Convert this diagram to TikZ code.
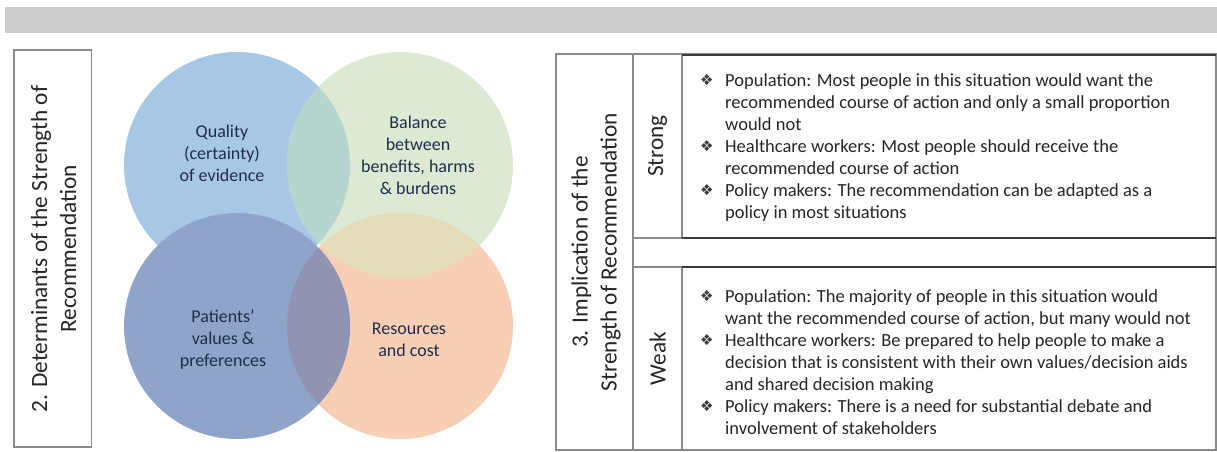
\documentclass[tikz,border=0pt]{standalone}
\usepackage{fontspec}
\setmainfont{Carlito}
\newfontfamily\dejavu{DejaVu Sans}
\definecolor{bandgray}{HTML}{CDCDCD}
\definecolor{boxgray}{HTML}{8A8A8A}
\definecolor{darkline}{HTML}{3A3A3A}
\definecolor{txt}{HTML}{262626}
\definecolor{bultxt}{HTML}{3A3A3A}
\definecolor{venntxt}{HTML}{1F2D4D}
\definecolor{cblue}{HTML}{A7C7E7}
\definecolor{cgreen}{HTML}{DCEAD3}
\definecolor{cteal}{HTML}{B6D5D1}
\definecolor{cdark}{HTML}{8FA4C9}
\definecolor{corange}{HTML}{F8CFB4}
\definecolor{ckhaki}{HTML}{E5DDBA}
\definecolor{cgrey}{HTML}{8F94B3}
\newcommand{\itembul}{\makebox[24pt][l]{\hspace*{-1pt}\raisebox{0.5pt}{\color{bultxt}\dejavu\fontsize{15pt}{15pt}\selectfont ❖}}}
\newcommand{\itemind}{\hspace*{24pt}}
\begin{document}
\begin{tikzpicture}[x=1pt,y=-1pt,
  sidelabel/.style={rotate=90, align=center, text=txt, font=\fontsize{23.3pt}{29pt}\selectfont, inner sep=0pt},
  venn/.style={align=center, text=venntxt, font=\fontsize{18pt}{22pt}\selectfont, inner sep=0pt},
  itemtext/.style={align=left, text=txt, font=\fontsize{18.5pt}{22pt}\selectfont, inner sep=0pt, anchor=west},
  grayline/.style={draw=boxgray, line width=1.3pt},
  darkrule/.style={draw=darkline, line width=1.6pt}]
\useasboundingbox (0,0) rectangle (1217,451);
\fill[white] (0,0) rectangle (1217,451);
% top band
\fill[bandgray] (5,7) rectangle (1217,33);

% ---------- left panel ----------
\draw[grayline] (14,50) rectangle (91.5,447);
\node[sidelabel] (lbl2) at (53.5,249) {2. Determinants of the Strength of\\Recommendation};

% ---------- Venn circles ----------
\coordinate (cA) at (237,165);
\coordinate (cB) at (400,165);
\coordinate (cC) at (237,326);
\coordinate (cD) at (400,326);
\fill[cblue] (cA) circle[radius=113pt];
\fill[cgreen] (cB) circle[radius=113pt];
\begin{scope}
  \clip (cA) circle[radius=113pt];
  \fill[cteal] (cB) circle[radius=113pt];
\end{scope}
\fill[corange] (cD) circle[radius=113pt];
\begin{scope}
  \clip (cB) circle[radius=113pt];
  \fill[ckhaki] (cD) circle[radius=113pt];
\end{scope}
\fill[cdark] (cC) circle[radius=113pt];
\begin{scope}
  \clip (cC) circle[radius=113pt];
  \fill[cgrey] (cD) circle[radius=113pt];
\end{scope}

\node[venn] (quality) at (222,153) {Quality\\(certainty)\\of evidence};
\node[venn] (balance) at (418,155) {Balance\\between\\benefits, harms\\\& burdens};
\node[venn] (patients) at (223,340) {Patients’\\values \&\\preferences};
\node[venn] (resources) at (409,340) {Resources\\and cost};

% ---------- right panel ----------
\draw[grayline] (556,54) rectangle (1216,450);
\draw[grayline] (633,54) -- (633,450);
\draw[grayline] (682,54) -- (682,238);
\draw[grayline] (682,267) -- (682,450);
\draw[grayline] (633,238) -- (1216,238);
\draw[grayline] (633,267) -- (1216,267);
\draw[darkrule] (682,55) -- (1216,55);
\draw[darkrule] (682,238) -- (1216,238);
\draw[darkrule] (682,267) -- (1216,267);

\node[sidelabel] (lbl3) at (596,252) {3. Implication of the\\Strength of Recommendation};
\node[sidelabel] (strong) at (657.5,146) {Strong};
\node[sidelabel] (weak) at (657.5,358.5) {Weak};

\node[itemtext] (strongtxt) at (701,147.4) {%
\itembul Population: Most people in this situation would want the\\
\itemind recommended course of action and only a small proportion\\
\itemind would not\\
\itembul Healthcare workers: Most people should receive the\\
\itemind recommended course of action\\
\itembul Policy makers: The recommendation can be adapted as a\\
\itemind policy in most situations};

\node[itemtext] (weaktxt) at (701,361.7) {%
\itembul Population: The majority of people in this situation would\\
\itemind want the recommended course of action, but many would not\\
\itembul Healthcare workers: Be prepared to help people to make a\\
\itemind decision that is consistent with their own values/decision aids\\
\itemind and shared decision making\\
\itembul Policy makers: There is a need for substantial debate and\\
\itemind involvement of stakeholders};
\end{tikzpicture}
\end{document}
